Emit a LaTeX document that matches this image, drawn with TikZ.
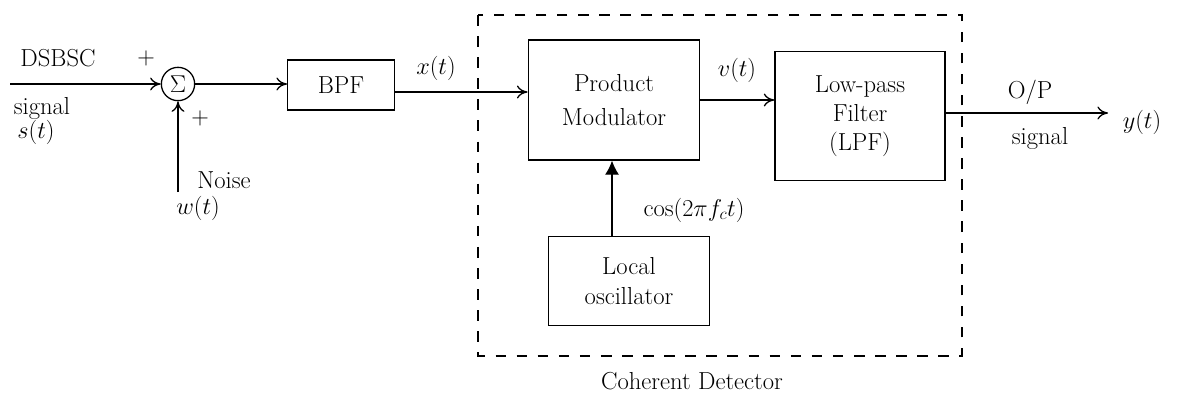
\documentclass[tikz,border=0pt]{standalone}
\usepackage{fontspec}
\usepackage{amsmath}
\usetikzlibrary{positioning, arrows.meta}

\tikzset{
  blockbox/.style={draw, line width=1.1pt, align=center, inner sep=2pt},
  wire/.style={line width=1.1pt, -{To[length=9pt,width=11pt]}},
  lbl/.style={inner sep=1pt},
}

\begin{document}
\begin{tikzpicture}[x=0.03cm, y=-0.03cm, font=\fontsize{21}{25}\selectfont]
    \useasboundingbox (0,0) rectangle (1185,396);

    % Summing junction and inputs
    \node[draw, circle, line width=1.1pt, inner sep=0pt, minimum size=1.0cm] (sum) at (178,84) {$\Sigma$};
    \coordinate (sin) at (10,84);
    \coordinate (nin) at (178,192);
    \draw[wire] (sin) -- (sum);
    \draw[wire] (nin) -- (sum);
    \node[lbl] (dsbsc) at (58,58) {DSBSC};
    \node[lbl] (plusa) at (146,58) {$+$};
    \node[lbl] (sig) at (42,108) {signal};
    \node[lbl] (st) at (36,132) {$s(t)$};
    \node[lbl] (plusb) at (200,118) {$+$};
    \node[lbl] (noise) at (224,180) {Noise};
    \node[lbl] (wt) at (198,208) {$w(t)$};

    % Band-pass filter
    \node[blockbox, minimum width=3.2cm, minimum height=1.5cm] (bpf) at (341,85) {BPF};
    \draw[wire] (sum) -- (bpf.west |- sum);

    % Coherent detector
    \draw[line width=1.1pt, dash pattern=on 9pt off 9pt] (478,15) rectangle (962,356);
    \node[lbl] (cohdet) at (692,381) {Coherent Detector};

    \node[blockbox, minimum width=5.15cm, minimum height=3.6cm] (prod) at (614,100) {Product\\[4pt]Modulator};
    \draw[wire] (bpf.east |- 0,92) -- (prod.west |- 0,92);
    \node[lbl] (xt) at (436,68) {$x(t)$};

    \node[blockbox, minimum width=5.1cm, minimum height=3.85cm] (lpf) at (860,116) {Low-pass\\Filter\\(LPF)};
    \draw[wire] (prod.east |- 0,100) -- (lpf.west |- 0,100);
    \node[lbl] (vt) at (737,70) {$v(t)$};

    \node[blockbox, minimum width=4.85cm, minimum height=2.65cm] (osc) at (629,281) {Local\\oscillator};
    \draw[line width=1.1pt, -{Latex[length=12pt,width=12pt]}] (osc.north -| 612,0) -- (prod.south -| 612,0);
    \node[lbl] (carrier) at (694,210) {$\cos(2\pi f_c t)$};

    % Output
    \coordinate (yout) at (1108,113);
    \draw[wire] (lpf.east |- yout) -- (yout);
    \node[lbl] (op) at (1030,92) {O/P};
    \node[lbl] (osig) at (1040,138) {signal};
    \node[lbl] (yt) at (1142,122) {$y(t)$};
\end{tikzpicture}
\end{document}
